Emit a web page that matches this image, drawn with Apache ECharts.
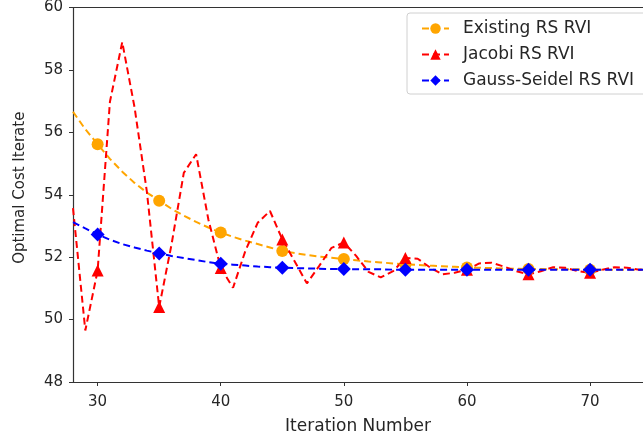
<!DOCTYPE html>
<html>
<head>
<meta charset="utf-8">
<script src="https://cdn.jsdelivr.net/npm/echarts@6/dist/echarts.min.js"></script>
<style>html,body{margin:0;padding:0;background:#fff}#c{width:643px;height:442px}</style>
</head>
<body>
<div id="c"></div>
<script>
const iterations = [28,29,30,31,32,33,34,35,36,37,38,39,40,41,42,43,44,45,46,47,48,49,50,51,52,53,54,55,56,57,58,59,60,61,62,63,64,65,66,67,68,69,70,71,72,73,74,75];
const existing = [56.66,56.10,55.62,55.15,54.74,54.38,54.07,53.81,53.55,53.33,53.13,52.95,52.79,52.65,52.53,52.42,52.31,52.20,52.13,52.07,52.02,51.98,51.94,51.90,51.86,51.83,51.80,51.77,51.75,51.73,51.71,51.69,51.67,51.66,51.65,51.64,51.63,51.62,51.62,51.61,51.61,51.61,51.60,51.60,51.60,51.60,51.60,51.60];
const jacobi = [53.57,49.65,51.57,56.98,58.89,56.80,54.10,50.40,52.40,54.70,55.30,53.20,51.65,51.02,52.20,53.10,53.48,52.57,51.87,51.16,51.72,52.30,52.47,52.04,51.53,51.35,51.55,51.97,51.95,51.67,51.45,51.50,51.60,51.80,51.82,51.70,51.55,51.45,51.55,51.68,51.66,51.55,51.50,51.60,51.68,51.66,51.60,51.62];
const gaussSeidel = [53.12,52.92,52.73,52.56,52.42,52.31,52.21,52.12,52.04,51.97,51.91,51.84,51.79,51.76,51.73,51.70,51.68,51.66,51.65,51.64,51.63,51.62,51.62,51.61,51.61,51.61,51.60,51.60,51.60,51.60,51.60,51.60,51.60,51.60,51.60,51.60,51.60,51.60,51.60,51.60,51.60,51.60,51.60,51.60,51.60,51.60,51.60,51.60];
const xTicks = [30,40,50,60,70];
const seriesNames = ['Existing RS RVI','Jacobi RS RVI','Gauss-Seidel RS RVI'];

const pairs = arr => iterations.map((x,i)=>[x,arr[i]]);
const markSize = s => (val) => (val[0] >= 30 && val[0] % 5 === 0) ? s : 0;
const font = 'DejaVu Sans';
const txt = '#262626';

const chart = echarts.init(document.getElementById('c'), null, {renderer:'canvas'});
function mk(name, data, color, symbol, size) {
  return {
    name, type:'line', data: pairs(data), symbol, symbolSize: markSize(size),
    showSymbol:true, showAllSymbol:true, smooth:false, animation:false,
    lineStyle:{color, width:2, type:[7,4]}, itemStyle:{color},
    emphasis:{disabled:true}, z: 2
  };
}
chart.setOption({
  animation:false,
  backgroundColor:'#fff',
  textStyle:{fontFamily:font},
  grid:{left:73, right:0, top:5, bottom:60, containLabel:false},
  legend:{
    orient:'vertical', left:407, top:13, itemGap:9, itemWidth:27, itemHeight:13,
    data: seriesNames,
    textStyle:{fontFamily:font, fontSize:17, color:txt, padding:[0,0,0,9]},
    backgroundColor:'rgba(255,255,255,0.85)', borderColor:'#d0d0d0', borderWidth:1, borderRadius:3,
    padding:[7,30,5,14]
  },
  xAxis:[{
    type:'value', min:28, max:74.3,
    name:'Iteration Number', nameLocation:'middle', nameGap:36,
    nameTextStyle:{fontFamily:font, fontSize:17, color:txt},
    axisLine:{show:true, onZero:false, lineStyle:{color:'#333', width:1.2}},
    axisTick:{show:true, length:4, customValues:xTicks, lineStyle:{color:'#333'}},
    axisLabel:{customValues:xTicks, fontFamily:font, fontSize:15, color:txt, margin:13},
    splitLine:{show:false}
  },{
    type:'value', min:28, max:74.3, position:'top',
    axisLine:{show:true, onZero:false, lineStyle:{color:'#333', width:1.2}},
    axisTick:{show:false}, axisLabel:{show:false}, splitLine:{show:false}
  }],
  yAxis:{
    type:'value', min:48, max:60, interval:2,
    name:'Optimal Cost Iterate', nameLocation:'middle', nameGap:45, nameRotate:90,
    nameTextStyle:{fontFamily:font, fontSize:15, color:txt, padding:[0,0,0,14]},
    axisLine:{show:true, onZero:false, lineStyle:{color:'#333', width:1.2}},
    axisTick:{show:true, length:4, lineStyle:{color:'#333'}},
    axisLabel:{fontFamily:font, fontSize:15, color:txt, margin:10},
    splitLine:{show:false}
  },
  series:[
    mk(seriesNames[0], existing, '#FFA500', 'circle', 12),
    mk(seriesNames[1], jacobi, '#FF0000', 'triangle', 12),
    mk(seriesNames[2], gaussSeidel, '#0000FF', 'diamond', 14)
  ]
});
</script>
</body>
</html>
